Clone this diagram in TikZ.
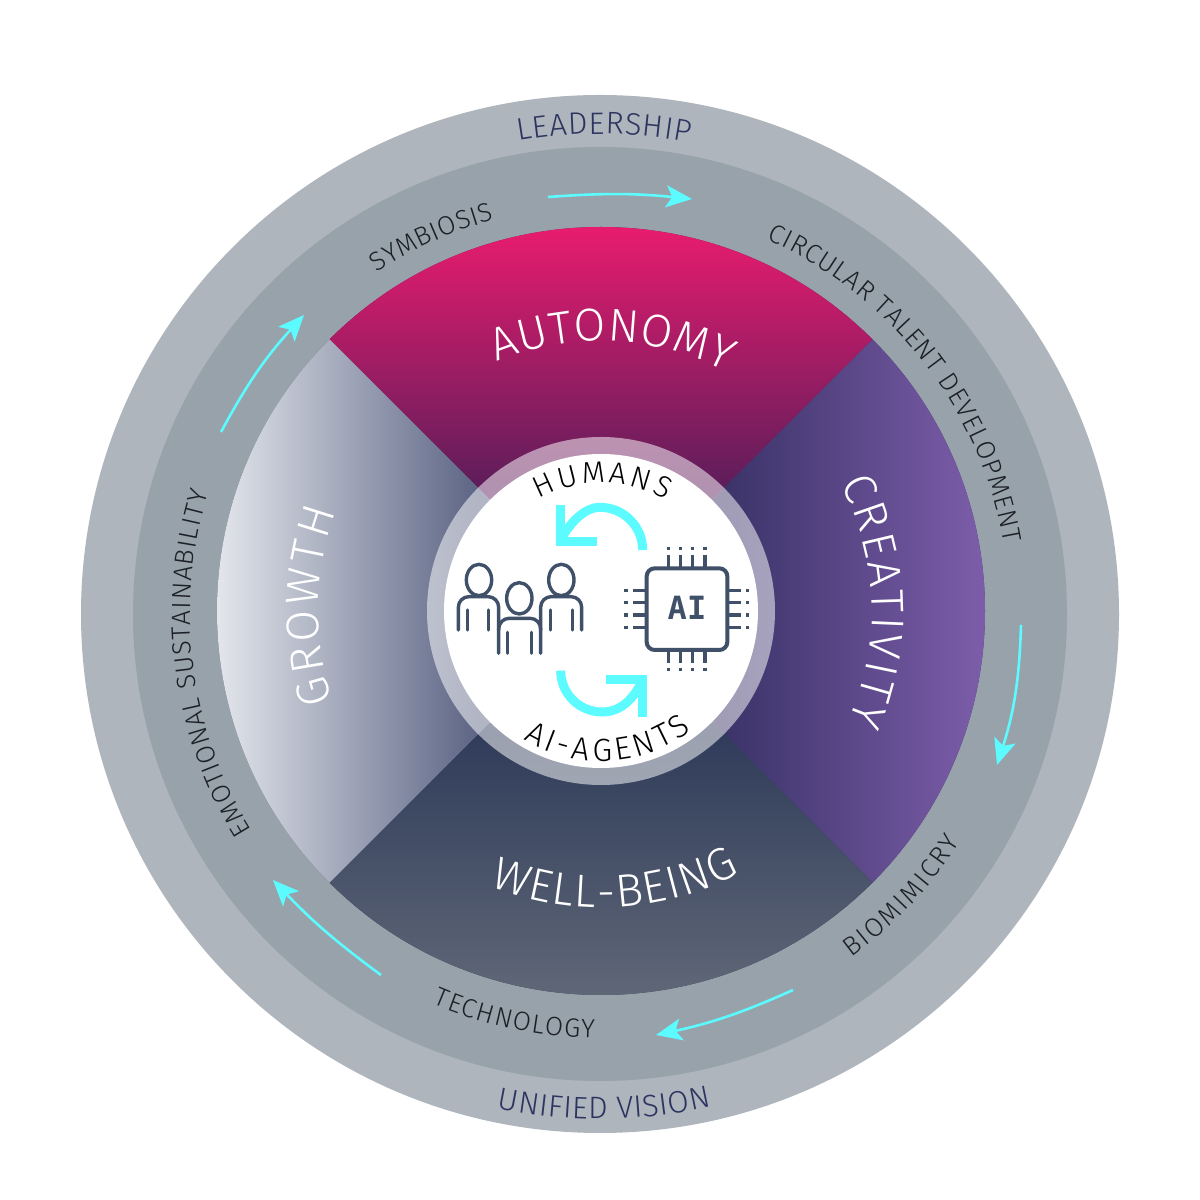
\documentclass[tikz,border=0pt]{standalone}
\usepackage{fontspec}
\usetikzlibrary{decorations.text,arrows.meta,calc}
\setmainfont{Fira Sans}
\newfontfamily\lightfont{Fira Sans Light}
\newfontfamily\chipfont{DejaVu Sans Mono}
\definecolor{ringout}{HTML}{AEB5BC}
\definecolor{ringmid}{HTML}{98A2AA}
\definecolor{navytxt}{HTML}{2C3560}
\definecolor{darktxt}{HTML}{1C2026}
\definecolor{cyanarrow}{HTML}{5CFBFF}
\definecolor{iconblue}{HTML}{3F5068}
\definecolor{HTMLa}{HTML}{E81C6E}
\definecolor{HTMLb}{HTML}{5C1D5A}
\definecolor{HTMLc}{HTML}{3B3469}
\definecolor{HTMLd}{HTML}{7D5DAA}
\definecolor{HTMLe}{HTML}{303C5A}
\definecolor{HTMLf}{HTML}{5F6777}
\definecolor{HTMLg}{HTML}{E4E7EC}
\definecolor{HTMLh}{HTML}{5D6585}
\tikzset{
  flowarrow/.style={draw=cyanarrow,line width=1.3pt,-{Stealth[length=13pt,width=11pt,inset=3pt]}},
  iconline/.style={draw=iconblue,line width=1.7pt,line cap=round},
  cyanloop/.style={draw=cyanarrow,line width=4.5pt,line join=miter},
  pinline/.style={draw=iconblue,line width=1.7pt}
}
% cx cy r a1 a2 size colour text
\newcommand\arclab[8]{%
  \path[decorate,decoration={text along path,text align={fit to path},
    text={|\lightfont\fontsize{#6}{#6}\selectfont\color{#7}|#8}}]
    ($(#1,#2)+(#4:#3)$) arc[start angle=#4,end angle=#5,radius=#3];}
\begin{document}
\begin{tikzpicture}[x=0.5pt,y=0.5pt]
\useasboundingbox (0,0) rectangle (1200,1200);
\fill[white] (0,0) rectangle (1200,1200);
\coordinate (oc) at (600,586);
\coordinate (ic) at (601,589);
\fill[ringout] (oc) circle[radius=519];
\fill[ringmid] (oc) circle[radius=467];
% sectors
\begin{scope}
  \clip (ic) -- ($(ic)+(135:384)$) arc[start angle=135,end angle=45,radius=384] -- cycle;
  \fill[HTMLb] (200,200) rectangle (1000,1000);
  \shade[top color=HTMLa,bottom color=HTMLb] (200,710) rectangle (1000,973);
\end{scope}
\begin{scope}
  \clip (ic) -- ($(ic)+(45:384)$) arc[start angle=45,end angle=-45,radius=384] -- cycle;
  \fill[HTMLc] (200,200) rectangle (1000,1000);
  \shade[left color=HTMLc,right color=HTMLd] (725,200) rectangle (986,1000);
\end{scope}
\begin{scope}
  \clip (ic) -- ($(ic)+(-45:384)$) arc[start angle=-45,end angle=-135,radius=384] -- cycle;
  \fill[HTMLe] (200,200) rectangle (1000,1000);
  \shade[top color=HTMLe,bottom color=HTMLf] (200,205) rectangle (1000,465);
\end{scope}
\begin{scope}
  \clip (ic) -- ($(ic)+(225:384)$) arc[start angle=225,end angle=135,radius=384] -- cycle;
  \fill[HTMLh] (200,200) rectangle (1000,1000);
  \shade[left color=HTMLg,right color=HTMLh] (215,200) rectangle (478,1000);
\end{scope}
% centre
\fill[white,opacity=0.52] (ic) circle[radius=174];
\fill[white] (ic) circle[radius=157];
% outer labels
\arclab{600}{586}{480}{99.8}{79.2}{15.5}{navytxt}{LEADERSHIP}
\arclab{600}{586}{505}{258.2}{282.8}{15.5}{navytxt}{UNIFIED VISION}
\arclab{600}{586}{408}{123.2}{105}{13.2}{darktxt}{SYMBIOSIS}
\arclab{600}{586}{410}{66}{10}{13.2}{darktxt}{CIRCULAR TALENT DEVELOPMENT}
\arclab{600}{586}{426}{306.2}{327.7}{13.2}{darktxt}{BIOMIMICRY}
\arclab{600}{586}{424}{246.8}{269.3}{13.2}{darktxt}{TECHNOLOGY}
\arclab{600}{586}{410}{211.8}{162.8}{13.2}{darktxt}{EMOTIONAL SUSTAINABILITY}
% sector labels
\arclab{601}{589}{270}{112.7}{62.4}{23}{white}{AUTONOMY}
\arclab{601}{589}{271}{28}{-24}{23}{white}{CREATIVITY}
\arclab{601}{589}{297}{248}{298}{23}{white}{WELL-BEING}
\arclab{601}{589}{283}{198.6}{159.4}{23}{white}{GROWTH}
% centre labels
\arclab{601}{589}{128}{119}{59.7}{15}{black}{HUMANS}
\arclab{601}{589}{150}{238.8}{307.4}{16}{black}{AI-AGENTS}
% flow arrows
\coordinate (a1s) at (548,1003); \coordinate (a1e) at (692,1001);
\coordinate (a2s) at (1021,575); \coordinate (a2e) at (997,435);
\coordinate (a3s) at (793,210);  \coordinate (a3e) at (656,165);
\coordinate (a4s) at (381,225);  \coordinate (a4e) at (273,320);
\coordinate (a5s) at (221,768);  \coordinate (a5e) at (304,885);
\draw[flowarrow] (a1s) to[bend left=5] (a1e);
\draw[flowarrow] (a2s) to[bend left=8] (a2e);
\draw[flowarrow] (a3s) to[bend left=6] (a3e);
\draw[flowarrow] (a4s) to[bend left=5] (a4e);
\draw[flowarrow] (a5s) to[bend left=7] (a5e);
% icons, in 3x crop coordinates
\begin{scope}[shift={(420,770)},xscale=1/3,yscale=-1/3]
  \draw[cyanloop] (668,360) arc[start angle=0,end angle=-90,radius=128]
     .. controls (490,232) and (445,285) .. (420,334);
  \draw[cyanloop] (420,225) -- (420,334) -- (531,334);
  \draw[cyanloop] (422,722) arc[start angle=180,end angle=90,radius=124]
     .. controls (600,846) and (640,810) .. (668,750);
  \draw[cyanloop] (558,750) -- (668,750) -- (668,862);
  % people
  \draw[iconline] (177,450) ellipse[x radius=38,y radius=47];
  \draw[iconline] (298,505) ellipse[x radius=38,y radius=47];
  \draw[iconline] (424,450) ellipse[x radius=38,y radius=47];
  \draw[iconline,rounded corners=5.3pt] (115,600) -- (115,500) -- (236,500) -- (236,600);
  \draw[iconline,rounded corners=5.3pt] (236,670) -- (236,565) -- (362,565) -- (362,670);
  \draw[iconline,rounded corners=5.3pt] (362,600) -- (362,500) -- (485,500) -- (485,600);
  \foreach \px/\py/\pz in {143/540/600,205/540/600,263/607/670,335/607/670,392/540/600,457/540/600}
    \draw[iconline] (\px,\py) -- (\px,\pz);
  % chip
  \draw[iconblue,line width=2pt,rounded corners=4pt] (680,415) rectangle (922,660);
  \foreach \pa in {745,781,818,855}{
    \draw[pinline] (\pa,375) -- (\pa,412);
    \draw[pinline] (\pa,663) -- (\pa,700);
    \fill[iconblue] (\pa-5,350) rectangle (\pa+5,361);
    \fill[iconblue] (\pa-5,713) rectangle (\pa+5,724);
  }
  \foreach \pb in {482,518,555,592}{
    \draw[pinline] (640,\pb) -- (678,\pb);
    \draw[pinline] (925,\pb) -- (962,\pb);
    \fill[iconblue] (612,\pb-5) rectangle (623,\pb+5);
    \fill[iconblue] (977,\pb-5) rectangle (988,\pb+5);
  }
\end{scope}
\node[text=iconblue,font=\chipfont\bfseries\fontsize{16}{16}\selectfont,inner sep=0pt] (chiplabel) at (687,592) {AI};
\end{tikzpicture}
\end{document}
